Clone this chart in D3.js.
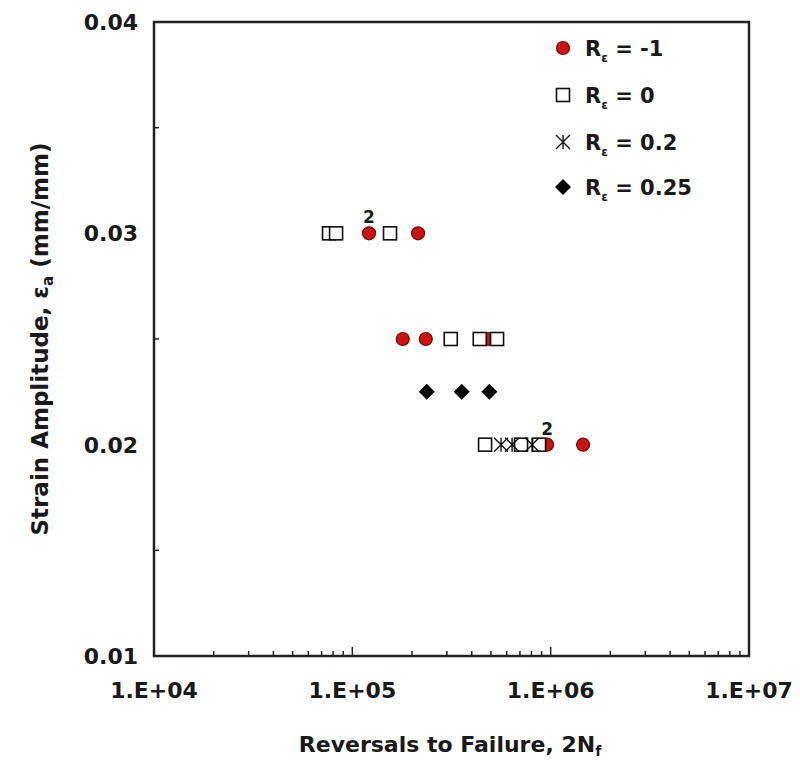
<!DOCTYPE html>
<html>
<head>
<meta charset="utf-8">
<script src="https://cdn.jsdelivr.net/npm/d3@7"></script>
<style>
  body { margin: 0; background: #fff; }
  text { font-family: "DejaVu Sans", Arial, sans-serif; font-weight: bold; fill: #1a1a1a; }
</style>
</head>
<body>
<div id="chart"></div>
<script>
// reversals to failure (2Nf) and strain amplitude, one pair of arrays per R ratio
const rm1N = [121400, 214500, 179600, 234600, 483400, 959000, 1457000];
const rm1S = [0.03, 0.03, 0.025, 0.025, 0.025, 0.02, 0.02];
const r0N = [76300, 82800, 154900, 313500, 439000, 536600, 467000, 709000, 874000];
const r0S = [0.03, 0.03, 0.03, 0.025, 0.025, 0.025, 0.02, 0.02, 0.02];
const r02N = [562000, 639000, 806000];
const r02S = [0.02, 0.02, 0.02];
const r025N = [237300, 356000, 490800];
const r025S = [0.0225, 0.0225, 0.0225];
// "2" = two tests at same point
const dupN = [121400, 959000];
const dupS = [0.03, 0.02];

const legendLabels = ["= -1", "= 0", "= 0.2", "= 0.25"];
const xTicks = [1e4, 1e5, 1e6, 1e7];
const xTickLabels = ["1.E+04", "1.E+05", "1.E+06", "1.E+07"];
const yTicks = [0.01, 0.02, 0.03, 0.04];
const yTickLabels = ["0.01", "0.02", "0.03", "0.04"];

const W = 800, H = 765;
const plot = { left: 154, top: 22, right: 749, bottom: 656 };

const svg = d3.select('#chart').append('svg')
  .attr('width', W)
  .attr('height', H);

const x = d3.scaleLog().domain([1e4, 1e7]).range([plot.left, plot.right]);
const y = d3.scaleLinear().domain([0.01, 0.04]).range([plot.bottom, plot.top]);

// minor ticks, inside the frame
let xMinor = [];
for (let d = 1e4; d < 1e7; d *= 10) {
  for (let k = 2; k <= 9; k++) xMinor.push(d * k);
}
svg.append('g').selectAll('line').data(xMinor).enter().append('line')
  .attr('x1', d => x(d)).attr('x2', d => x(d))
  .attr('y1', plot.bottom).attr('y2', plot.bottom - 5)
  .attr('stroke', '#222').attr('stroke-width', 1.5);
svg.append('g').selectAll('line').data(xTicks.slice(1, 3)).enter().append('line')
  .attr('x1', d => x(d)).attr('x2', d => x(d))
  .attr('y1', plot.bottom).attr('y2', plot.bottom - 9)
  .attr('stroke', '#222').attr('stroke-width', 1.5);

const yMinor = [0.015, 0.025, 0.035];
svg.append('g').selectAll('line').data(yMinor).enter().append('line')
  .attr('x1', plot.left).attr('x2', plot.left + 5)
  .attr('y1', d => y(d)).attr('y2', d => y(d))
  .attr('stroke', '#222').attr('stroke-width', 1.5);

// frame
svg.append('rect')
  .attr('x', plot.left).attr('y', plot.top)
  .attr('width', plot.right - plot.left).attr('height', plot.bottom - plot.top)
  .attr('fill', 'none').attr('stroke', '#222').attr('stroke-width', 2.5);

// tick labels
svg.append('g').selectAll('text').data(xTicks).enter().append('text')
  .attr('x', d => x(d)).attr('y', plot.bottom + 42)
  .attr('text-anchor', 'middle').attr('font-size', 22)
  .text((d, i) => xTickLabels[i]);
svg.append('g').selectAll('text').data(yTicks).enter().append('text')
  .attr('x', plot.left - 16).attr('y', d => y(d) + 8)
  .attr('text-anchor', 'end').attr('font-size', 22)
  .text((d, i) => yTickLabels[i]);

// axis titles
let xt = svg.append('text')
  .attr('x', 450).attr('y', 752)
  .attr('text-anchor', 'middle').attr('font-size', 22)
  .text('Reversals to Failure, 2N');
xt.append('tspan').attr('font-size', 14).attr('dy', 4).text('f');

let yt = svg.append('text')
  .attr('transform', 'translate(48,' + (plot.top + plot.bottom) / 2 + ') rotate(-90)')
  .attr('text-anchor', 'middle').attr('font-size', 23)
  .text('Strain Amplitude, ε');
yt.append('tspan').attr('font-size', 15).attr('dy', 5).text('a');
yt.append('tspan').attr('dy', -5).text(' (mm/mm)');

// marker drawing helpers
function drawCircle(g, cx, cy) {
  g.append('circle').attr('cx', cx).attr('cy', cy).attr('r', 6.5)
    .attr('fill', '#c81414').attr('stroke', '#7a0000').attr('stroke-width', 1.2);
}
function drawSquare(g, cx, cy) {
  g.append('rect').attr('x', cx - 6.5).attr('y', cy - 6.5)
    .attr('width', 13).attr('height', 13)
    .attr('fill', '#fff').attr('stroke', '#111').attr('stroke-width', 1.6);
}
function drawStar(g, cx, cy) {
  const s = 7;
  g.append('path')
    .attr('d', `M${cx - s},${cy - s}L${cx + s},${cy + s}M${cx - s},${cy + s}L${cx + s},${cy - s}M${cx},${cy - s}L${cx},${cy + s}`)
    .attr('stroke', '#111').attr('stroke-width', 1.4).attr('fill', 'none');
}
function drawDiamond(g, cx, cy) {
  const s = 8;
  g.append('path')
    .attr('d', `M${cx},${cy - s}L${cx + s},${cy}L${cx},${cy + s}L${cx - s},${cy}Z`)
    .attr('fill', '#000');
}

const series = [
  { n: rm1N, s: rm1S, draw: drawCircle },
  { n: r0N, s: r0S, draw: drawSquare },
  { n: r02N, s: r02S, draw: drawStar },
  { n: r025N, s: r025S, draw: drawDiamond }
];

const marks = svg.append('g');
series.forEach(ser => {
  ser.n.forEach((d, i) => ser.draw(marks, x(d), y(ser.s[i])));
});

svg.append('g').selectAll('text').data(dupN).enter().append('text')
  .attr('x', d => x(d)).attr('y', (d, i) => y(dupS[i]) - 10)
  .attr('text-anchor', 'middle').attr('font-size', 17)
  .text('2');

// legend
const legendY = [48, 95, 142, 187];
const legend = svg.append('g');
series.forEach((ser, i) => {
  ser.draw(legend, 563, legendY[i]);
  let t = legend.append('text')
    .attr('x', 585).attr('y', legendY[i] + 8)
    .attr('font-size', 21)
    .text('R');
  t.append('tspan').attr('font-size', 12).attr('dy', 6).text('ε');
  t.append('tspan').attr('dy', -6).text(' ' + legendLabels[i]);
});
</script>
</body>
</html>
